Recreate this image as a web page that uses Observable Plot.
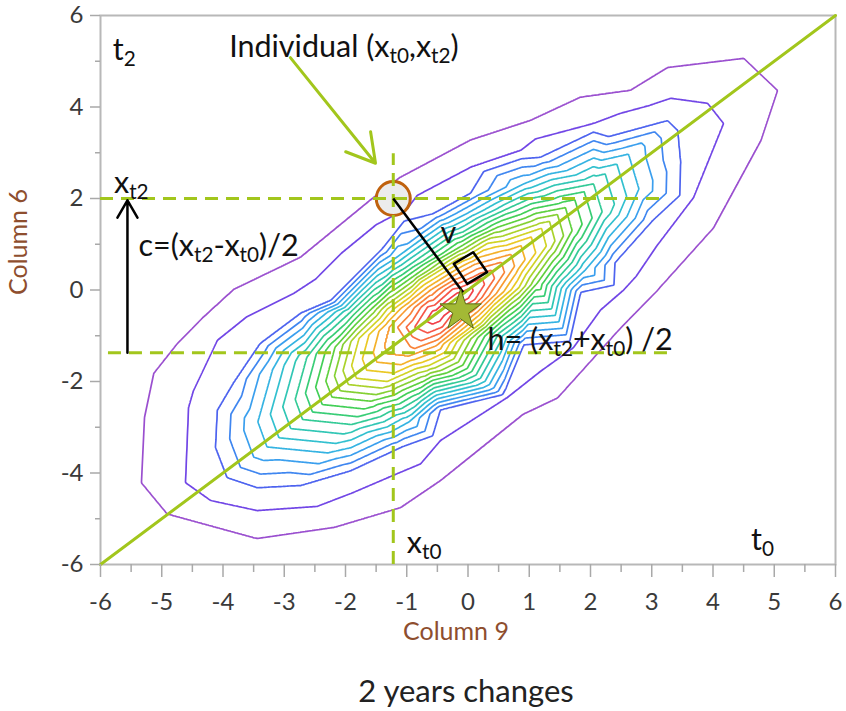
<!DOCTYPE html>
<html>
<head>
<meta charset="utf-8">
<script src="https://cdn.jsdelivr.net/npm/d3@7"></script>
<script src="https://cdn.jsdelivr.net/npm/@observablehq/plot@0.6"></script>
<style>
  body { margin: 0; background: #fff; }
  #wrap { position: relative; width: 846px; height: 711px; font-family: Lato, "Open Sans", sans-serif; }
  #caption { position: absolute; left: 86px; width: 760px; top: 670px; line-height: 40px; text-align: center; font-size: 31px; color: #222; }
</style>
</head>
<body>
<div id="wrap"><div id="chart"></div><div id="caption">2 years changes</div></div>
<script>
// ---- contour levels and colours ----
const levels = [1,2,3,4,5,6,7,8,9,10,11,12,13,14,15,16,17,18,19,20,21,22];
const levelColors = ["#9a4fcf","#7146e6","#4d63ef","#3f86f0","#3a9fee","#35b3e2","#32c0cf","#31c6b5",
  "#33ca96","#38cd76","#42cf57","#5ed03e","#84d033","#aad22b","#d0d325","#eac824","#f4b12a","#f89a31",
  "#f98338","#f86c40","#f65548","#f1404a"];

// ---- contour lines (Column 9, Column 6) ----
const contour1 = [[-5.33,-4.21],[-5.13,-1.83],[-4.74,-1.17],[-4.32,-0.6],[-3.83,0],[-2.73,0.71],[-1.59,1.96],[-1.1,2.46],[0.04,3.27],[1.02,3.7],[1.84,4.21],[2.65,4.36],[3.26,4.86],[4.5,5.06],[5.05,4.36],[4.78,3.27],[4.01,1.37],[3.09,0],[2.49,-0.82],[1.46,-2.35],[0.91,-2.7],[-0.45,-4.16],[-1.1,-4.75],[-2.2,-5.19],[-3.44,-5.43],[-4.91,-4.89]];
const contour2 = [[-4.61,-4.21],[-4.56,-2.57],[-4.48,-2.2],[-4.09,-1.1],[-2.85,-0.08],[-0.99,1.78],[0.04,2.68],[0.86,3.05],[2.05,3.64],[3.31,4.19],[3.91,4.08],[4.17,3.64],[3.68,2.02],[3.1,1.0],[2.54,0],[1.72,-1.26],[0.64,-2.35],[-0.45,-3.29],[-1.31,-4.1],[-1.92,-4.45],[-3.44,-4.82],[-4.2,-4.6]];
const contour3 = [[-4.12,-3.44],[-4.09,-2.63],[-3.83,-2.04],[-3.39,-1.17],[-2.73,-0.51],[-2.24,-0.23],[-1.4,0.9],[-0.56,1.67],[0.04,2.11],[1.18,2.9],[2.3,3.35],[3.26,3.7],[3.42,3.49],[3.47,2.77],[3.0,1.5],[2.4,0.6],[1.84,-0.05],[0.91,-1.2],[-0.45,-2.62],[-1.1,-3.44],[-1.92,-3.95],[-2.73,-4.27],[-3.44,-4.32],[-3.93,-4.1]];
const contour6 = [[-3.43,-2.88],[-3.19,-1.74],[-2.29,-0.48],[-1.2,0.68],[-0.02,1.67],[0.91,2.32],[2.62,2.97],[2.79,2.21],[1.91,0.43],[0.69,-1.1],[-0.96,-2.88],[-2.29,-3.56],[-3.28,-3.43]];
const contour9 = [[-2.82,-2.39],[-2.63,-1.47],[-1.9,-0.46],[-1.03,0.48],[-0.08,1.27],[0.68,1.8],[2.05,2.32],[2.19,1.71],[1.48,0.28],[0.5,-0.95],[-0.83,-2.39],[-1.9,-2.94],[-2.7,-2.83]];
const contour12 = [[-2.32,-1.99],[-2.17,-1.25],[-1.59,-0.43],[-0.88,0.31],[-0.12,0.95],[0.48,1.37],[1.59,1.8],[1.7,1.3],[1.13,0.15],[0.34,-0.83],[-0.72,-1.99],[-1.59,-2.43],[-2.22,-2.34]];
const contour15 = [[-1.9,-1.65],[-1.78,-1.06],[-1.32,-0.42],[-0.76,0.18],[-0.16,0.68],[0.32,1.02],[1.2,1.35],[1.28,0.96],[0.83,0.05],[0.21,-0.73],[-0.64,-1.65],[-1.32,-2.0],[-1.82,-1.93]];
const contour18 = [[-1.37,-1.22],[-1.29,-0.82],[-0.98,-0.39],[-0.61,0.0],[-0.2,0.34],[0.11,0.56],[0.7,0.78],[0.76,0.52],[0.46,-0.08],[0.04,-0.6],[-0.52,-1.22],[-0.98,-1.45],[-1.32,-1.4]];
const contour21 = [[-0.87,-0.81],[-0.66,-0.37],[-0.25,0.02],[0.23,0.26],[0.27,0.12],[0.11,-0.21],[-0.42,-0.81],[-0.66,-0.94]];
const densityTop = [[-0.5,-0.55],[-0.1,-0.15]];
const emptyBorder = [[-6,-6],[-6,-3],[-6,0],[-6,3],[-6,6],[-3,6],[0,6],[3,6],[6,6],[6,3],[6,0],[6,-3],[6,-6],[3,-6],[0,-6],[-3,-6]];

const keyContours = [
  {level: 0, pts: emptyBorder}, {level: 1, pts: contour1}, {level: 2, pts: contour2},
  {level: 3, pts: contour3}, {level: 6, pts: contour6}, {level: 9, pts: contour9},
  {level: 12, pts: contour12}, {level: 15, pts: contour15}, {level: 18, pts: contour18},
  {level: 21, pts: contour21}, {level: 23, pts: densityTop}
];
// tiny offset keeps flat triangles off the exact threshold values
const samples = keyContours.flatMap(k => k.pts.map(([x, y]) => ({x, y, v: k.level + 0.002})));

// ---- annotations ----
const diagonal = [[-6,-6],[6,6]];
const individualPoint = [{x: -1.22, y: 2.0}];
const meanPoint = [{x: -0.12, y: -0.45}];
const vSegment = [{x1: -1.22, y1: 2.0, x2: -0.08, y2: -0.05}];
const rightAngle = [[-0.232,0.573],[0.085,0.826],[0.313,0.389],[-0.013,0.135],[-0.232,0.573]];
const dashH = [{y: 2.0, x1: -6, x2: 3.22}, {y: -1.37, x1: -5.87, x2: 3.31}];
const dashV = [{x: -1.22, y1: -6, y2: 2.98}];
const cArrow = [{x1: -5.56, y1: -1.37, x2: -5.56, y2: 1.96}];
const pointerArrow = [{x1: -2.9, y1: 5.08, x2: -1.51, y2: 2.77}];
const labels = [
  {x: -5.8, y: 5.23, text: "t_{2}"},
  {x: -3.9, y: 5.3, text: "Individual (x_{t0},x_{t2})"},
  {x: -5.78, y: 2.33, text: "x_{t2}"},
  {x: -5.38, y: 0.95, text: "c=(x_{t2}-x_{t0})/2"},
  {x: -0.45, y: 1.23, text: "v"},
  {x: 0.32, y: -1.1, text: "h= (x_{t2}+x_{t0}) /2"},
  {x: -1.0, y: -5.54, text: "x_{t0}"},
  {x: 4.62, y: -5.48, text: "t_{0}"}
];

// ---- axes ----
const xMajorTicks = [-6,-5,-4,-3,-2,-1,0,1,2,3,4,5,6];
const xMinorTicks = [-5.5,-4.5,-3.5,-2.5,-1.5,-0.5,0.5,1.5,2.5,3.5,4.5,5.5];
const yMajorTicks = [-6,-4,-2,0,2,4,6];
const yMinorTicks = [-5,-3,-1,1,3,5];
const xTitle = ["Column 9"];
const yTitle = ["Column 6"];

const green = "#a2c61c";
const axisGrey = "#a9a9a9";
const tickText = "#3a3a3a";
const titleColor = "#8e4e2e";

const svg = Plot.plot({
  width: 846, height: 655,
  marginTop: 15, marginRight: 11, marginBottom: 91, marginLeft: 100,
  x: {domain: [-6, 6]},
  y: {domain: [-6, 6]},
  color: {type: "ordinal", domain: levels, range: levelColors},
  style: {fontFamily: "Lato, 'Open Sans', sans-serif", background: "white", overflow: "visible"},
  marks: [
    Plot.contour(samples, {x: "x", y: "y", value: "v", interpolate: "barycentric", thresholds: levels,
      stroke: "value", fill: "none", strokeWidth: 1.7, pixelSize: 1}),
    Plot.frame({stroke: "#b8b8b8", strokeWidth: 2}),
    Plot.line(diagonal, {x: d => d[0], y: d => d[1], stroke: green, strokeWidth: 3}),
    Plot.dot(individualPoint, {x: "x", y: "y", r: 17, stroke: "#c0620e", strokeWidth: 3, fill: "#ececec"}),
    Plot.ruleY(dashH, {y: "y", x1: "x1", x2: "x2", stroke: green, strokeWidth: 3, strokeDasharray: "13,8"}),
    Plot.ruleX(dashV, {x: "x", y1: "y1", y2: "y2", stroke: green, strokeWidth: 3, strokeDasharray: "13,8"}),
    Plot.link(vSegment, {x1: "x1", y1: "y1", x2: "x2", y2: "y2", stroke: "#000", strokeWidth: 2.5}),
    Plot.line(rightAngle, {x: d => d[0], y: d => d[1], stroke: "#000", strokeWidth: 2.5}),
    Plot.dot(meanPoint, {x: "x", y: "y", symbol: "star", r: 13, fill: "#a3b935", stroke: "#5d6b16", strokeWidth: 1}),
    Plot.arrow(cArrow, {x1: "x1", y1: "y1", x2: "x2", y2: "y2", stroke: "#000", strokeWidth: 2.5, headLength: 12}),
    Plot.arrow(pointerArrow, {x1: "x1", y1: "y1", x2: "x2", y2: "y2", stroke: green, strokeWidth: 3, headLength: 16}),
    Plot.text(labels, {x: "x", y: "y", text: "text", textAnchor: "start", lineAnchor: "middle", fontSize: 30.5, fill: "#111"}),
    Plot.axisX({ticks: xMajorTicks, tickSize: 13, tickPadding: 15, stroke: axisGrey, strokeWidth: 1.5, fill: tickText, fontSize: 24, tickFormat: d => String(d), label: null}),
    Plot.axisX({ticks: xMinorTicks, tickSize: 8, stroke: axisGrey, strokeWidth: 1.5, tickFormat: () => "", label: null}),
    Plot.axisY({ticks: yMajorTicks, tickSize: 10, tickPadding: 7, stroke: axisGrey, strokeWidth: 1.5, fill: tickText, fontSize: 24, tickFormat: d => String(d), label: null}),
    Plot.axisY({ticks: yMinorTicks, tickSize: 5, stroke: axisGrey, strokeWidth: 1.5, tickFormat: () => "", label: null}),
    Plot.text(xTitle, {text: d => d, frameAnchor: "bottom", dy: 75, dx: -12, fontSize: 25, fill: titleColor}),
    Plot.text(yTitle, {text: d => d, frameAnchor: "left", dx: -82, dy: 5, rotate: -90, fontSize: 25, fill: titleColor})
  ]
});

// turn "_{...}" into real subscript tspans
d3.select(svg).selectAll("text").each(function() {
  const s = this.textContent;
  if (!s.includes("_{")) return;
  this.textContent = "";
  const re = /_\{([^}]*)\}/g;
  let last = 0, m, lowered = false;
  const add = (txt, sub) => {
    if (!txt) return;
    const ts = document.createElementNS("http://www.w3.org/2000/svg", "tspan");
    ts.textContent = txt;
    if (sub && !lowered) { ts.setAttribute("dy", "6"); lowered = true; }
    else if (!sub && lowered) { ts.setAttribute("dy", "-6"); lowered = false; }
    if (sub) ts.setAttribute("font-size", "68%");
    this.appendChild(ts);
  };
  while ((m = re.exec(s))) { add(s.slice(last, m.index), false); add(m[1], true); last = re.lastIndex; }
  add(s.slice(last), false);
});

document.getElementById("chart").appendChild(svg);
</script>
</body>
</html>
